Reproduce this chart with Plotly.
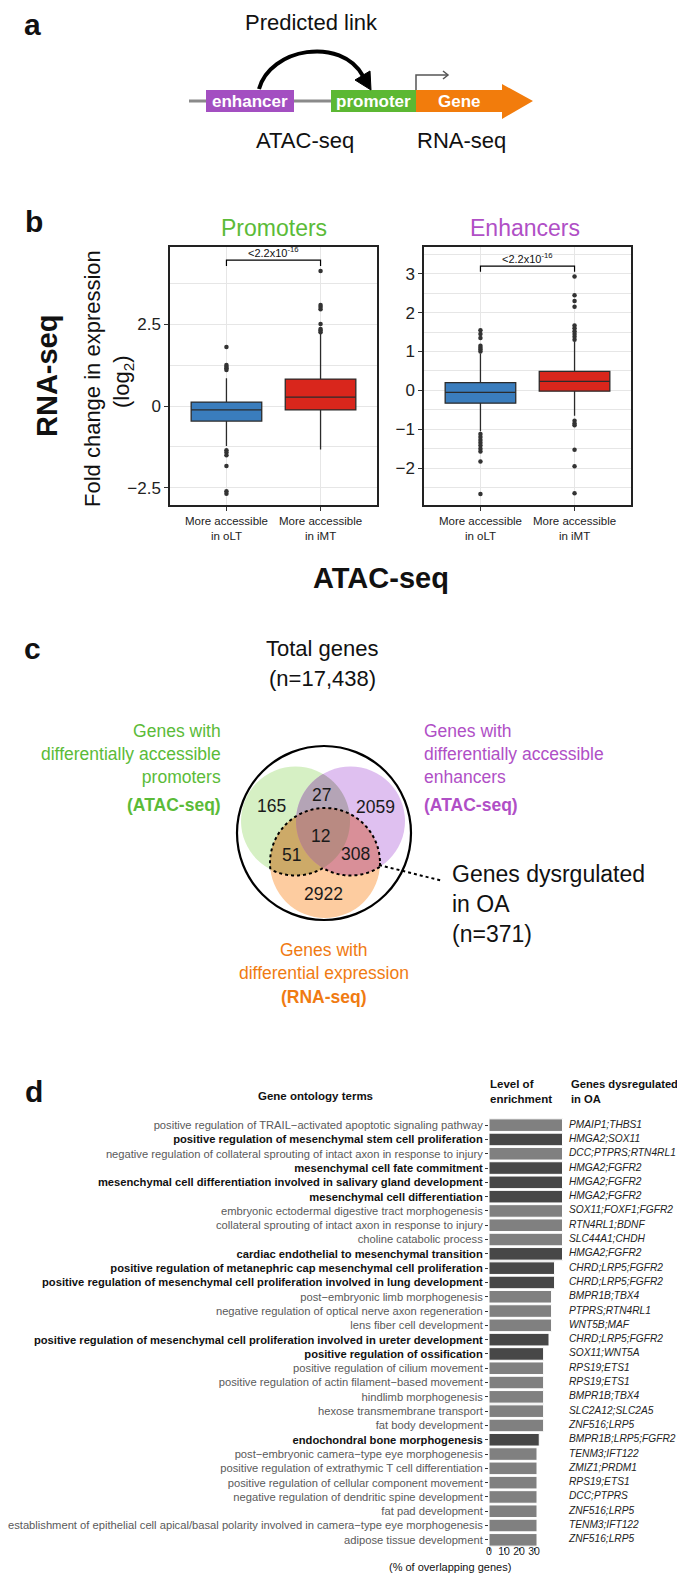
import math

import plotly.graph_objects as go

W, H = 685, 1573
FONT = "Liberation Sans, Arial, Helvetica, sans-serif"
NARROW = "Liberation Sans Narrow, Liberation Sans, Arial, sans-serif"

# ---- panel b: RNA-seq log2 fold change, grouped by ATAC-seq accessibility
groups = ["More accessible<br>in oLT", "More accessible<br>in iMT"]
group_pos = [1, 2]
box_colors = ["#3a7dbd", "#d9261c"]

prom_q1 = [-0.46, -0.12]
prom_median = [-0.12, 0.27]
prom_q3 = [0.12, 0.82]
prom_lower = [-1.22, -1.33]
prom_upper = [0.85, 2.2]
prom_out_olt = [1.1, 1.15, 1.2, 1.25, 1.8, -1.35, -1.42, -1.5, -1.83, -2.6, -2.68]
prom_out_imt = [2.25, 2.3, 2.35, 2.5, 2.95, 3.02, 3.08, 4.12]

enh_q1 = [-0.33, -0.02]
enh_median = [-0.05, 0.23]
enh_q3 = [0.2, 0.49]
enh_lower = [-1.05, -0.65]
enh_upper = [0.95, 1.25]
enh_out_olt = [1.0, 1.05, 1.1, 1.15, 1.35, 1.45, 1.55,
               -1.12, -1.2, -1.28, -1.35, -1.42, -1.5, -1.57, -1.83, -2.67]
enh_out_imt = [1.3, 1.38, 1.45, 1.52, 1.6, 1.67, 2.15, 2.3, 2.45, 2.93,
               -0.78, -0.85, -0.9, -1.53, -1.95, -2.65]

pval_text = "&lt;2.2x10<sup>-16</sup>"

# ---- panel c: Venn counts
venn_counts = [165, 27, 2059, 12, 51, 308, 2922]
total_genes = "17,438"
dysregulated_n = 371

# ---- panel d: GO enrichment
go_terms = [
    "positive regulation of TRAIL−activated apoptotic signaling pathway",
    "positive regulation of mesenchymal stem cell proliferation",
    "negative regulation of collateral sprouting of intact axon in response to injury",
    "mesenchymal cell fate commitment",
    "mesenchymal cell differentiation involved in salivary gland development",
    "mesenchymal cell differentiation",
    "embryonic ectodermal digestive tract morphogenesis",
    "collateral sprouting of intact axon in response to injury",
    "choline catabolic process",
    "cardiac endothelial to mesenchymal transition",
    "positive regulation of metanephric cap mesenchymal cell proliferation",
    "positive regulation of mesenchymal cell proliferation involved in lung development",
    "post−embryonic limb morphogenesis",
    "negative regulation of optical nerve axon regeneration",
    "lens fiber cell development",
    "positive regulation of mesenchymal cell proliferation involved in ureter development",
    "positive regulation of ossification",
    "positive regulation of cilium movement",
    "positive regulation of actin filament−based movement",
    "hindlimb morphogenesis",
    "hexose transmembrane transport",
    "fat body development",
    "endochondral bone morphogenesis",
    "post−embryonic camera−type eye morphogenesis",
    "positive regulation of extrathymic T cell differentiation",
    "positive regulation of cellular component movement",
    "negative regulation of dendritic spine development",
    "fat pad development",
    "establishment of epithelial cell apical/basal polarity involved in camera−type eye morphogenesis",
    "adipose tissue development",
]
go_bold = [0, 1, 0, 1, 1, 1, 0, 0, 0, 1, 1, 1, 0, 0, 0, 1, 1, 0, 0, 0, 0, 0, 1, 0, 0, 0, 0, 0, 0, 0]
go_enrichment = [49, 49, 49, 49, 49, 49, 49, 49, 49, 49, 43.7, 43.7, 41.7, 41.7, 41.7,
                 40, 36.4, 36.4, 36.4, 36.4, 36.4, 36.4, 33.5, 32, 32, 32, 32, 32, 32, 32]
go_genes = [
    "PMAIP1;THBS1", "HMGA2;SOX11", "DCC;PTPRS;RTN4RL1", "HMGA2;FGFR2", "HMGA2;FGFR2",
    "HMGA2;FGFR2", "SOX11;FOXF1;FGFR2", "RTN4RL1;BDNF", "SLC44A1;CHDH", "HMGA2;FGFR2",
    "CHRD;LRP5;FGFR2", "CHRD;LRP5;FGFR2", "BMPR1B;TBX4", "PTPRS;RTN4RL1", "WNT5B;MAF",
    "CHRD;LRP5;FGFR2", "SOX11;WNT5A", "RPS19;ETS1", "RPS19;ETS1", "BMPR1B;TBX4",
    "SLC2A12;SLC2A5", "ZNF516;LRP5", "BMPR1B;LRP5;FGFR2", "TENM3;IFT122", "ZMIZ1;PRDM1",
    "RPS19;ETS1", "DCC;PTPRS", "ZNF516;LRP5", "TENM3;IFT122", "ZNF516;LRP5",
]
enrich_ticks = [0, 10, 20, 30]


def px(x):
    return x / W


def py(y):
    return 1 - y / H


def path_of(points, close=False):
    s = "M" + " L".join(f"{px(x):.5f},{py(y):.5f}" for x, y in points)
    return s + (" Z" if close else "")


annotations = []
shapes = []


def text(t, x, y, size, color="#111", bold=False, xanchor="center", yanchor="middle",
         angle=0, family=FONT, align="center"):
    if bold:
        t = f"<b>{t}</b>"
    annotations.append(dict(text=t, x=px(x), y=py(y), xref="paper", yref="paper",
                            showarrow=False, xanchor=xanchor, yanchor=yanchor,
                            textangle=angle, align=align,
                            font=dict(size=size, color=color, family=family)))


fig = go.Figure()

# ================= panel a: schematic
text("a", 24, 16, 30, bold=True)
text("Predicted link", 303, 15, 22)
shapes.append(dict(type="line", xref="paper", yref="paper", x0=px(181), x1=px(323),
                   y0=py(93), y1=py(93), line=dict(color="#8a8a8a", width=3)))
shapes.append(dict(type="rect", xref="paper", yref="paper", x0=px(198), x1=px(286),
                   y0=py(104), y1=py(82), fillcolor="#a34fc1", line=dict(width=0)))
shapes.append(dict(type="rect", xref="paper", yref="paper", x0=px(323), x1=px(408),
                   y0=py(104), y1=py(82), fillcolor="#5cb833", line=dict(width=0)))
shapes.append(dict(type="path", xref="paper", yref="paper",
                   path=path_of([(408, 82), (494, 82), (494, 76), (525, 93), (494, 111),
                                 (494, 104), (408, 104)], close=True),
                   fillcolor="#f27c0c", line=dict(width=0)))
shapes.append(dict(type="path", xref="paper", yref="paper",
                   path=path_of([(408, 82), (408, 67), (440, 67)]),
                   line=dict(color="#555", width=1.5)))
shapes.append(dict(type="path", xref="paper", yref="paper",
                   path=path_of([(435, 63), (440, 67), (435, 71)]),
                   line=dict(color="#555", width=1.5)))
shapes.append(dict(type="path", xref="paper", yref="paper",
                   path=(f"M{px(251):.5f},{py(81):.5f} C{px(262):.5f},{py(40):.5f} "
                         f"{px(333):.5f},{py(28):.5f} {px(355):.5f},{py(68):.5f}"),
                   line=dict(color="black", width=4)))
shapes.append(dict(type="path", xref="paper", yref="paper",
                   path=path_of([(363, 82), (347, 72), (362, 63)], close=True),
                   fillcolor="black", line=dict(color="black", width=1)))
text("enhancer", 242, 93, 17, color="white", bold=True, family=NARROW)
text("promoter", 365, 93, 17, color="white", bold=True, family=NARROW)
text("Gene", 452, 94, 17, color="white", bold=True, family=NARROW)
text("ATAC-seq", 297, 132, 22)
text("RNA-seq", 453, 132, 22)

# ================= panel b: box plots
panels_b = [
    ("x", "y", prom_q1, prom_median, prom_q3, prom_lower, prom_upper,
     [prom_out_olt, prom_out_imt], (4.27, 4.45)),
    ("x2", "y2", enh_q1, enh_median, enh_q3, enh_lower, enh_upper,
     [enh_out_olt, enh_out_imt], (3.05, 3.2)),
]
for xa, ya, q1, med, q3, lo, hi, outs, (b0, b1) in panels_b:
    for i, pos in enumerate(group_pos):
        fig.add_trace(go.Box(x=[pos], q1=[q1[i]], median=[med[i]], q3=[q3[i]],
                             lowerfence=[lo[i]], upperfence=[hi[i]], width=0.75,
                             fillcolor=box_colors[i], line=dict(color="#2b2b2b", width=1.3),
                             whiskerwidth=0, boxpoints=False, xaxis=xa, yaxis=ya,
                             hoverinfo="skip"))
        fig.add_trace(go.Scatter(x=[pos] * len(outs[i]), y=outs[i], mode="markers",
                                 marker=dict(size=4.5, color="#333"), xaxis=xa, yaxis=ya))
    fig.add_trace(go.Scatter(x=[group_pos[0], group_pos[0], group_pos[1], group_pos[1]],
                             y=[b0, b1, b1, b0], mode="lines",
                             line=dict(color="black", width=1.2), xaxis=xa, yaxis=ya))
    annotations.append(dict(text=pval_text, x=1.5, y=b1, xref=xa, yref=ya,
                            showarrow=False, yanchor="bottom", yshift=-1,
                            font=dict(size=11, color="#111", family=NARROW)))

text("b", 26, 214, 30, bold=True)
text("Promoters", 266, 220, 23, color="#5bbb38")
text("Enhancers", 517, 220, 23, color="#b04fc6")
text("RNA-seq", 39, 368, 29, bold=True, angle=-90)
text("Fold change in expression", 84, 371, 22, angle=-90)
text("(log<sub>2</sub>)", 115, 373, 22, angle=-90)
text("ATAC-seq", 373, 570, 29, bold=True)

# ================= panel c: Venn
text("c", 25, 640, 30, bold=True)
text("Total genes", 314, 641, 22)
text(f"(n={total_genes})", 314, 670, 22)
green_c, purple_c, orange_c = "#5bbb38", "#b04fc6", "#f07b12"
text("Genes with<br>differentially accessible<br>promoters", 215, 746, 17.5,
     color=green_c, xanchor="right", align="right")
text("(ATAC-seq)", 215, 797, 17.5, color=green_c, bold=True, xanchor="right")
text("Genes with<br>differentially accessible<br>enhancers", 414, 746, 17.5,
     color=purple_c, xanchor="left", align="left")
text("(ATAC-seq)", 414, 797, 17.5, color=purple_c, bold=True, xanchor="left")
text("Genes with", 316, 942, 17.5, color=orange_c)
text("differential expression", 316, 965, 17.5, color=orange_c)
text("(RNA-seq)", 316, 989, 17.5, color=orange_c, bold=True)

outer = (316, 825, 87)
circ_g = (287.5, 813, 54.5)
circ_p = (342.5, 813, 54.5)
circ_o = (317, 855, 55)


def circle_shape(c, fill, line=None):
    cx, cy, r = c
    return dict(type="circle", xref="paper", yref="paper", x0=px(cx - r), x1=px(cx + r),
                y0=py(cy + r), y1=py(cy - r), fillcolor=fill,
                line=line or dict(width=0))


def inside(p, c, tol=0.0):
    return (p[0] - c[0]) ** 2 + (p[1] - c[1]) ** 2 <= (c[2] + tol) ** 2


def circle_points(c, n=720):
    cx, cy, r = c
    return [(cx + r * math.cos(2 * math.pi * k / n), cy + r * math.sin(2 * math.pi * k / n))
            for k in range(n)]


def overlap_region(circles):
    # convex intersection of circles -> boundary samples sorted by angle
    pts = []
    for c in circles:
        others = [o for o in circles if o is not c]
        pts += [p for p in circle_points(c) if all(inside(p, o, 0.01) for o in others)]
    mx = sum(p[0] for p in pts) / len(pts)
    my = sum(p[1] for p in pts) / len(pts)
    pts.sort(key=lambda p: math.atan2(p[1] - my, p[0] - mx))
    return path_of(pts, close=True)


# single-set and overlap colours
shapes.append(circle_shape(circ_g, "#d6f0c4"))
shapes.append(circle_shape(circ_p, "#dfc0f0"))
shapes.append(circle_shape(circ_o, "#fdcca0"))
for combo, col in [((circ_g, circ_p), "#b4a4b6"), ((circ_g, circ_o), "#cdaa68"),
                   ((circ_p, circ_o), "#d98f98"), ((circ_g, circ_p, circ_o), "#b98a82")]:
    shapes.append(dict(type="path", xref="paper", yref="paper", path=overlap_region(combo),
                       fillcolor=col, line=dict(width=0)))
shapes.append(circle_shape(outer, "rgba(0,0,0,0)", dict(color="black", width=2.2)))


def boundary(c, keep, n=720):
    segs, cur = [], []
    for p in circle_points(c, n) + circle_points(c, n)[:1]:
        if keep(p):
            cur.append(p)
        else:
            if len(cur) > 1:
                segs.append(cur)
            cur = []
    if len(cur) > 1:
        segs.append(cur)
    return " ".join(path_of(s) for s in segs)


dot_line = dict(color="black", width=2, dash="dot")
for c, keep in [
    (circ_o, lambda p: inside(p, circ_g) or inside(p, circ_p)),
    (circ_g, lambda p: inside(p, circ_o) and not inside(p, circ_p)),
    (circ_p, lambda p: inside(p, circ_o) and not inside(p, circ_g)),
]:
    shapes.append(dict(type="path", xref="paper", yref="paper", path=boundary(c, keep),
                       line=dot_line))
shapes.append(dict(type="line", xref="paper", yref="paper", x0=px(371), y0=py(857),
                   x1=px(435), y1=py(873), line=dot_line))

venn_label_pos = [(263, 798), (313, 787), (367, 799), (312, 828), (283, 847), (347, 846), (315, 886)]
for v, (x, y) in zip(venn_counts, venn_label_pos):
    text(str(v), x, y, 17.5, color="#1a1a1a")
text(f"Genes dysrgulated<br>in OA<br>(n={dysregulated_n})", 442, 896, 23,
     xanchor="left", align="left")

# ================= panel d: GO terms
text("d", 26, 1083, 30, bold=True)
text("Gene ontology terms", 307, 1088, 11.5, bold=True)
text("Level of<br>enrichment", 480, 1083, 11.5, bold=True, xanchor="left", align="left")
text("Genes dysregulated<br>in OA", 561, 1083, 11.2, bold=True, xanchor="left", align="left")

rows = list(range(len(go_terms)))
bar_colors = ["#474747" if b else "#808080" for b in go_bold]
ticklabels = [f"<b>{t}</b>" if b else f"<span style='color:#5a5a5a'>{t}</span>"
              for t, b in zip(go_terms, go_bold)]
fig.add_trace(go.Bar(x=go_enrichment, y=rows, orientation="h",
                     marker=dict(color=bar_colors, line=dict(color="white", width=1)),
                     xaxis="x3", yaxis="y3", width=0.88))
fig.add_trace(go.Scatter(x=[0] * len(rows), y=rows, text=[f"<i>{g}</i>" for g in go_genes],
                         mode="text", textposition="middle right", cliponaxis=False,
                         textfont=dict(size=10.2, color="#222", family=FONT),
                         xaxis="x4", yaxis="y3"))
annotations.append(dict(text="(% of overlapping genes)", x=px(505), y=py(1567),
                        xref="paper", yref="paper", showarrow=False,
                        font=dict(size=11, color="#111", family=FONT)))

grid = "#e6e6e6"
frame = dict(showline=True, mirror=True, linecolor="#222", linewidth=1.5, zeroline=False,
             ticks="outside", ticklen=4, tickcolor="#333", showgrid=True, gridcolor=grid,
             gridwidth=1.3, automargin=False)
xb = dict(range=[0.4, 2.6], tickvals=group_pos, ticktext=groups,
          tickfont=dict(size=11.5, color="#222", family=NARROW))

fig.update_layout(
    width=W, height=H, margin=dict(l=0, r=0, t=0, b=0, autoexpand=False),
    paper_bgcolor="white", plot_bgcolor="white", showlegend=False,
    font=dict(family=FONT, color="#111"), bargap=0.1,
    xaxis=dict(domain=[px(162), px(369)], anchor="y", **xb, **frame),
    yaxis=dict(domain=[py(497), py(239)], anchor="x", range=[-3.02, 4.85],
               tickvals=[-2.5, 0, 2.5], ticktext=["−2.5", "0", "2.5"],
               tickfont=dict(size=17, color="#222"),
               minor=dict(tickvals=[-1.25, 1.25, 3.75], showgrid=True, gridcolor=grid,
                          gridwidth=1.3, ticks=""), **frame),
    xaxis2=dict(domain=[px(416), px(623)], anchor="y2", **xb, **frame),
    yaxis2=dict(domain=[py(497), py(239)], anchor="x2", range=[-2.95, 3.69],
                tickvals=[-2, -1, 0, 1, 2, 3], ticktext=["−2", "−1", "0", "1", "2", "3"],
                tickfont=dict(size=17, color="#222"),
                minor=dict(tickvals=[-2.5, -1.5, -0.5, 0.5, 1.5, 2.5, 3.5], showgrid=True,
                           gridcolor=grid, gridwidth=1.3, ticks=""), **frame),
    xaxis3=dict(domain=[px(481), px(559)], anchor="y3", range=[0, 52],
                tickvals=enrich_ticks, ticks="outside", ticklen=3, tickcolor="#333",
                tickangle=0, showgrid=False, zeroline=False, showline=False,
                ticklabelstandoff=-9, automargin=False,
                tickfont=dict(size=10.5, color="#222", family=NARROW)),
    yaxis3=dict(domain=[py(1539), py(1110)], anchor="x3", range=[29.5, -0.5],
                tickvals=rows, ticktext=ticklabels, ticks="outside", ticklen=3,
                tickcolor="#333", showgrid=False, zeroline=False, showline=False,
                automargin=False, tickfont=dict(size=11.2, color="#111", family=FONT)),
    xaxis4=dict(domain=[px(561), px(685)], anchor="y3", range=[0, 1], visible=False,
                automargin=False),
    annotations=annotations,
    shapes=shapes,
)

fig.write_html("out.html")
